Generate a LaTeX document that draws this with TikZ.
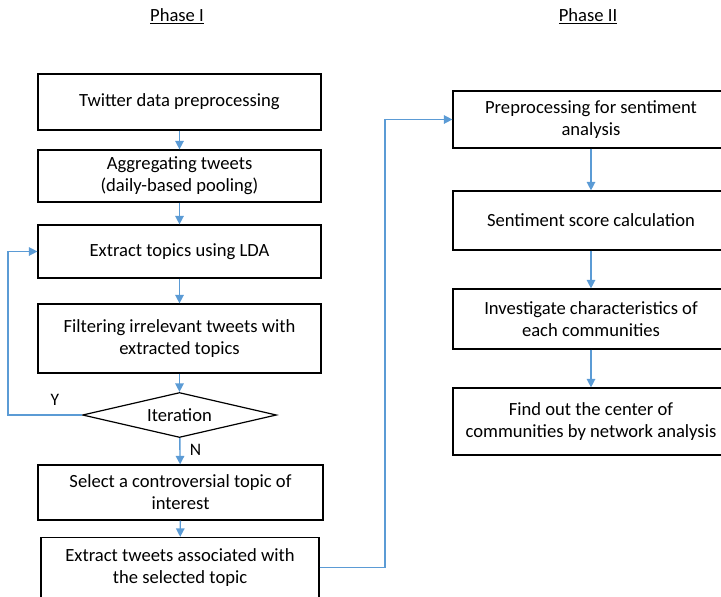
\documentclass[tikz,border=0pt]{standalone}
\usepackage{fontspec}
\setmainfont{Carlito}
\usetikzlibrary{arrows.meta,shapes.geometric}
\definecolor{flow}{RGB}{91,155,213}
\tikzset{
  stepbox/.style={draw=black, line width=1.2pt, inner sep=0pt, align=center,
    font=\fontsize{18.6}{22}\selectfont},
  decision/.style={draw=black, line width=1.2pt, diamond, aspect=4.3, inner sep=0pt,
    minimum width=194pt, minimum height=45pt, font=\fontsize{18.6}{22}\selectfont},
  flowline/.style={draw=flow, line width=1.4pt},
  flowarrow/.style={flowline, -{Triangle[length=8.5pt,width=8.5pt]}},
  phase/.style={font=\fontsize{18.6}{22}\selectfont},
  lbl/.style={font=\fontsize{17.5}{20}\selectfont}
}
\begin{document}
\begin{tikzpicture}[x=1pt,y=-1pt]
\useasboundingbox (0,0) rectangle (721,597);
\clip (0,0) rectangle (721,597);

% phase headings
\node[phase] (ph1) at (177,16) {\underline{Phase I}};
\node[phase] (ph2) at (588,16) {\underline{Phase II}};

% Phase I boxes
\node[stepbox, minimum width=283pt, minimum height=56pt] (b1) at (179.5,102) {Twitter data preprocessing};
\node[stepbox, minimum width=283pt, minimum height=52pt] (b2) at (179.5,176) {Aggregating tweets\\(daily-based pooling)};
\node[stepbox, minimum width=283pt, minimum height=53pt] (b3) at (179.5,251.5) {Extract topics using LDA};
\node[stepbox, minimum width=283pt, minimum height=69pt] (b4) at (179.5,338.5) {Filtering irrelevant tweets with\\extracted topics};
\node[decision] (d1) at (179.5,415) {Iteration};
\node[stepbox, minimum width=285pt, minimum height=55pt] (b5) at (180.5,492.5) {Select a controversial topic of\\interest};
\node[stepbox, minimum width=278pt, minimum height=60pt] (b6) at (180,567.5) {Extract tweets associated with\\the selected topic};

% Phase II boxes (they run past the right edge)
\node[stepbox, minimum width=276pt, minimum height=57pt] (c1) at (591,119.5) {Preprocessing for sentiment\\analysis};
\node[stepbox, minimum width=276pt, minimum height=59pt] (c2) at (591,220.5) {Sentiment score calculation};
\node[stepbox, minimum width=276pt, minimum height=60pt] (c3) at (591,319) {Investigate characteristics of\\each communities};
\node[stepbox, minimum width=276pt, minimum height=67pt] (c4) at (591,421.5) {Find out the center of\\communities by network analysis};

% Phase I flow
\draw[flowarrow] (b1) -- (b2);
\draw[flowarrow] (b2) -- (b3);
\draw[flowarrow] (b3) -- (b4);
\draw[flowarrow] (b4) -- (d1);
\draw[flowarrow] (d1) -- (b5) node[lbl, pos=0.45, right=6pt] (lblN) {N};
\draw[flowarrow] (b5) -- (b6);

% iteration loop back to topic extraction
\coordinate (loopA) at (8,415);
\coordinate (loopB) at (8,251.5);
\draw[flowarrow] (d1.west) -- (loopA) -- (loopB) -- (b3.west);
\node[lbl] (lblY) at (55,400) {Y};

% hand-over from Phase I to Phase II
\coordinate (hopA) at (385,567.5);
\coordinate (hopB) at (385,119.5);
\draw[flowarrow] (b6.east) -- (hopA) -- (hopB) -- (c1.west);

% Phase II flow
\draw[flowarrow] (c1) -- (c2);
\draw[flowarrow] (c2) -- (c3);
\draw[flowarrow] (c3) -- (c4);
\end{tikzpicture}
\end{document}
